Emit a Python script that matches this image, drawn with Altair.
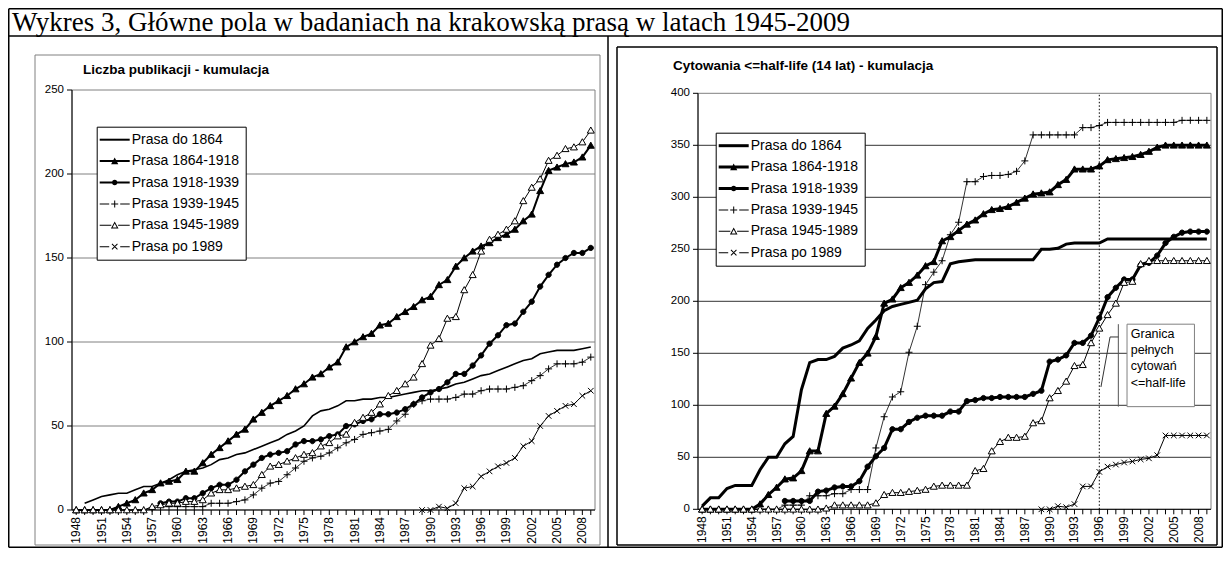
import altair as alt
import pandas as pd

years = list(range(1948, 2010))
label_years = list(range(1948, 2010, 3))
series = ["Prasa do 1864", "Prasa 1864-1918", "Prasa 1918-1939",
          "Prasa 1939-1945", "Prasa 1945-1989", "Prasa po 1989"]
N = None

# ---- Left chart: Liczba publikacji - kumulacja (1948..2009) ----
pub_do1864 = [N, 4, 6, 8, 9, 10, 10, 12, 14, 14,
              16, 18, 21, 23, 24, 25, 27, 30, 31, 33,
              34, 36, 38, 40, 42, 45, 47, 50, 56, 59,
              60, 62, 65, 65, 66, 66, 67, 67, 68, 69,
              70, 71, 71, 72, 73, 75, 76, 78, 80, 81,
              83, 85, 87, 89, 90, 93, 94, 95, 95, 95,
              96, 97]
pub_1864_1918 = [0, 0, 0, 0, 0, 2, 4, 6, 10, 12,
                 16, 17, 18, 23, 23, 28, 33, 37, 41, 45,
                 48, 54, 58, 62, 65, 68, 72, 75, 79, 81,
                 85, 88, 97, 100, 103, 105, 110, 111, 115, 118,
                 121, 125, 127, 134, 137, 145, 150, 154, 157, 159,
                 162, 164, 167, 172, 176, 190, 202, 204, 206, 207,
                 210, 217]
pub_1918_1939 = [N, N, N, N, N, N, N, N, N, N,
                 4, 5, 5, 7, 7, 10, 13, 15, 15, 18,
                 23, 27, 31, 33, 34, 35, 39, 41, 41, 42,
                 44, 45, 50, 51, 53, 54, 57, 57, 58, 60,
                 63, 67, 70, 72, 76, 81, 81, 86, 92, 99,
                 104, 110, 111, 118, 124, 133, 140, 146, 150, 153,
                 153, 156]
pub_1939_1945 = [0, 0, 0, 0, 0, 0, 0, 0, 0, 1,
                 2, 2, 2, 2, 2, 2, 4, 4, 4, 5,
                 6, 9, 13, 16, 17, 21, 25, 29, 31, 32,
                 34, 37, 40, 42, 45, 46, 47, 48, 53, 57,
                 63, 65, 66, 66, 66, 67, 69, 69, 71, 72,
                 72, 72, 73, 74, 77, 80, 84, 87, 87, 87,
                 88, 91]
pub_1945_1989 = [0, 0, 0, 0, 0, 0, 0, 0, 0, 2,
                 3, 4, 4, 5, 5, 6, 10, 12, 12, 13,
                 14, 15, 21, 26, 27, 29, 31, 33, 34, 38,
                 40, 44, 45, 52, 55, 58, 63, 68, 71, 75,
                 79, 87, 98, 102, 114, 115, 131, 140, 154, 161,
                 164, 167, 172, 184, 192, 197, 208, 211, 215, 216,
                 219, 226]
pub_po1989 = [N] * 41 + [0, 0, 2, 1, 4, 13, 14, 20, 23, 26,
                         28, 31, 38, 41, 50, 56, 59, 62, 63, 68, 71]

# ---- Right chart: Cytowania <=half-life (14 lat) - kumulacja ----
cit_do1864 = [3, 11, 11, 20, 23, 23, 23, 38, 50, 50,
              63, 70, 115, 141, 144, 144, 147, 155, 158, 162,
              174, 182, 191, 195, 197, 199, 201, 212, 218, 219,
              236, 238, 239, 240, 240, 240, 240, 240, 240, 240,
              240, 250, 250, 251, 255, 256, 256, 256, 256, 260,
              260, 260, 260, 260, 260, 260, 260, 260, 260, 260,
              260, 260]
cit_1864_1918 = [0, 0, 0, 0, 0, 0, 0, 5, 14, 21,
                 29, 30, 37, 56, 56, 92, 99, 111, 126, 141,
                 150, 166, 198, 202, 213, 218, 225, 234, 238, 258,
                 262, 268, 274, 278, 284, 288, 289, 291, 295, 299,
                 303, 304, 305, 312, 317, 327, 327, 327, 330, 336,
                 337, 338, 339, 341, 344, 348, 350, 350, 350, 350,
                 350, 350]
cit_1918_1939 = [N, N, N, N, N, N, N, N, N, N,
                 8, 8, 8, 8, 17, 18, 21, 22, 22, 27,
                 41, 51, 59, 77, 77, 84, 88, 90, 90, 90,
                 94, 94, 104, 105, 107, 107, 108, 108, 108, 108,
                 111, 114, 142, 144, 148, 160, 160, 167, 184, 204,
                 213, 221, 221, 235, 237, 244, 256, 262, 266, 267,
                 267, 267]
cit_1939_1945 = [0, 0, 0, 0, 0, 0, 0, 0, 0, 0,
                 4, 4, 4, 13, 13, 13, 15, 15, 19, 19,
                 19, 59, 89, 108, 113, 151, 176, 216, 228, 239,
                 264, 276, 315, 315, 320, 321, 321, 322, 325, 335,
                 360, 360, 360, 360, 360, 360, 367, 367, 369, 372,
                 372, 372, 372, 372, 372, 372, 372, 372, 374, 374,
                 374, 374]
cit_1945_1989 = [0, 0, 0, 0, 0, 0, 0, 0, 0, 0,
                 0, 0, 0, 0, 0, 1, 4, 4, 4, 4,
                 4, 6, 14, 16, 16, 17, 18, 19, 22, 23,
                 23, 23, 23, 37, 39, 56, 65, 69, 69, 70,
                 83, 85, 107, 114, 123, 138, 139, 160, 174, 187,
                 198, 218, 219, 236, 239, 239, 239, 239, 239, 239,
                 239, 239]
cit_po1989 = [N] * 41 + [0, 0, 3, 2, 5, 22, 22, 36, 41, 43,
                         45, 46, 48, 49, 52, 71, 71, 71, 71, 71, 71]

left_y_ticks = [0, 50, 100, 150, 200, 250]
right_y_ticks = [0, 50, 100, 150, 200, 250, 300, 350, 400]

main_title = "Wykres 3, Główne pola w badaniach na krakowską prasą w latach 1945-2009"
left_title = "Liczba publikacji - kumulacja"
right_title = "Cytowania <=half-life (14 lat) - kumulacja"
note_lines = ["Granica", "pełnych", "cytowań", "<=half-life"]
half_life_year = 1996

W, H = 1215, 540
FONT = "Liberation Sans"
X_DOM = [1947.5, 2009.5]

# data markers (unit = sqrt(size)/2 px)
PT_SHAPES = ["M0,0",
             "M-1,0.8L0,-0.95L1,0.8Z",
             "M-0.75,0A0.75,0.75 0 1,0 0.75,0A0.75,0.75 0 1,0 -0.75,0Z",
             "M-1,0H1M0,-1V1",
             "M-1,0.8L0,-0.95L1,0.8Z",
             "M-0.8,-0.8L0.8,0.8M-0.8,0.8L0.8,-0.8"]
PT_FILLS = ["transparent", "black", "black", "transparent", "white", "transparent"]


def leg_paths(t_do, t_thick, t_thin):
    """Legend symbols as filled outlines (unit = 5 px): line + marker."""
    def rect(x0, x1, t):
        return f"M{x0},{-t}H{x1}V{t}H{x0}Z"
    tri = "M-0.72,0.62L0,-0.72L0.72,0.62Z"
    circ = "M-0.55,0A0.55,0.55 0 1,1 0.55,0A0.55,0.55 0 1,1 -0.55,0Z"
    plus = rect(-3, -1.1, t_thin) + rect(1.1, 3, t_thin) + rect(-0.7, 0.7, 0.1) + \
        "M-0.1,-0.7H0.1V0.7H-0.1Z"
    otri = rect(-3, -0.68, t_thin) + rect(0.68, 3, t_thin) + \
        "M-0.76,0.66L0,-0.78L0.76,0.66Z" + "M-0.42,0.46L0.42,0.46L0,-0.36Z"
    cross = rect(-3, -1.1, t_thin) + rect(1.1, 3, t_thin) + \
        "M-0.48,-0.62L0.62,0.48L0.48,0.62L-0.62,-0.48Z" + \
        "M-0.48,0.62L-0.62,0.48L0.48,-0.62L0.62,-0.48Z"
    return [rect(-3, 3, t_do),
            rect(-3, 3, t_thick) + tri,
            rect(-3, 3, t_thick) + circ,
            plus, otri, cross]


def long_df(cols):
    rows = []
    for s, vals in zip(series, cols):
        for y, v in zip(years, vals):
            if v is not None:
                rows.append({"year": y, "series": s, "v": v})
    return pd.DataFrame(rows)


def panel(cols, x_rng, y_rng, y_ticks, line_w, leg_syms, leg_x, leg_y, grid_color, extra_fn=None):
    df = long_df(cols)
    y_max = y_ticks[-1]
    xs = alt.Scale(domain=X_DOM, range=x_rng, nice=False, zero=False)
    ys = alt.Scale(domain=[0, y_max], range=y_rng, nice=False, zero=False)
    px_x0 = x_rng[0]
    px_y0 = y_rng[0]
    one = pd.DataFrame({"a": [0]})
    xd0 = alt.XDatum(X_DOM[0], type="quantitative", scale=xs, axis=None)
    xd1 = alt.X2Datum(X_DOM[1])

    grid = alt.Chart(pd.DataFrame({"v": y_ticks[1:-1]})).mark_rule(
        color=grid_color, strokeWidth=1).encode(
        y=alt.Y("v:Q", scale=ys, axis=None), x=xd0, x2=xd1)
    frame = alt.Chart(one).mark_rect(
        fill="transparent", stroke="#808080", strokeWidth=1).encode(
        x=xd0, x2=xd1,
        y=alt.YDatum(0, type="quantitative", scale=ys, axis=None),
        y2=alt.Y2Datum(y_max))
    # axes drawn through the scales
    x_domain_line = alt.Chart(one).mark_rule(color="black", strokeWidth=1).encode(
        x=xd0, x2=xd1, y=alt.YDatum(0, type="quantitative", scale=ys, axis=None))
    y_domain_line = alt.Chart(one).mark_rule(color="black", strokeWidth=1).encode(
        x=xd0, y=alt.YDatum(0, type="quantitative", scale=ys, axis=None), y2=alt.Y2Datum(y_max))
    x_ticks = alt.Chart(pd.DataFrame({"year": years})).mark_rule(color="black", strokeWidth=1).encode(
        x=alt.X("year:Q", scale=xs, axis=None), y=alt.value(px_y0), y2=alt.value(px_y0 + 5))
    x_labels = alt.Chart(pd.DataFrame({"year": label_years, "t": [str(y) for y in label_years]})).mark_text(
        angle=270, align="right", baseline="middle", font=FONT, fontSize=12, color="black").encode(
        x=alt.X("year:Q", scale=xs, axis=None), y=alt.value(px_y0 + 7), text="t:N")
    y_tick_marks = alt.Chart(pd.DataFrame({"v": y_ticks})).mark_rule(color="black", strokeWidth=1).encode(
        y=alt.Y("v:Q", scale=ys, axis=None), x=alt.value(px_x0 - 5), x2=alt.value(px_x0))
    y_labels = alt.Chart(pd.DataFrame({"v": y_ticks, "t": [str(v) for v in y_ticks]})).mark_text(
        align="right", baseline="middle", font=FONT, fontSize=11.5, color="black").encode(
        y=alt.Y("v:Q", scale=ys, axis=None), x=alt.value(px_x0 - 8), text="t:N")

    lines = alt.Chart(df).mark_line(color="black").encode(
        x=alt.X("year:Q", scale=xs, axis=None),
        y=alt.Y("v:Q", scale=ys, axis=None),
        detail="series:N",
        strokeWidth=alt.StrokeWidth("series:N", scale=alt.Scale(type="ordinal", domain=series, range=line_w),
                                    legend=None))
    pts = alt.Chart(df).transform_filter(alt.datum.series != series[0]).mark_point(
        stroke="black", strokeWidth=1, opacity=1, size=49).encode(
        x=alt.X("year:Q", scale=xs, axis=None),
        y=alt.Y("v:Q", scale=ys, axis=None),
        shape=alt.Shape("series:N", scale=alt.Scale(domain=series, range=PT_SHAPES), legend=None),
        fill=alt.Fill("series:N", scale=alt.Scale(domain=series, range=PT_FILLS), legend=None))
    lg = alt.Legend(orient="none", legendX=leg_x, legendY=leg_y, title=None,
                    fillColor="white", strokeColor="black", padding=6, rowPadding=7.4,
                    symbolSize=100, symbolOffset=5, labelOffset=10,
                    symbolFillColor="black", symbolStrokeWidth=0, symbolStrokeColor="transparent",
                    labelFont=FONT, labelFontSize=14, labelColor="black", labelLimit=0)
    leg = alt.Chart(pd.DataFrame({"series": series})).transform_filter("false").mark_point(
        filled=True, color="black", opacity=1).encode(
        shape=alt.Shape("series:N", scale=alt.Scale(domain=series, range=leg_syms), legend=lg))
    layers = [grid, frame]
    if extra_fn is not None:
        layers += extra_fn(xs, ys)
    layers += [x_domain_line, y_domain_line, x_ticks, x_labels, y_tick_marks, y_labels, lines, pts, leg]
    return alt.layer(*layers).resolve_scale(shape="independent", fill="independent",
                                            strokeWidth="independent")


def right_extra(xs, ys):
    dotted = alt.Chart(pd.DataFrame({"x": [half_life_year]})).mark_rule(
        color="black", strokeWidth=1, strokeDash=[1.5, 2]).encode(
        x=alt.X("x:Q", scale=xs, axis=None),
        y=alt.YDatum(0, type="quantitative", scale=ys, axis=None), y2=alt.Y2Datum(400))
    box = alt.Chart(pd.DataFrame({"x": [1999.35], "x2": [2007.5], "y": [98.7], "y2": [178]})).mark_rect(
        fill="white", stroke="#808080", strokeWidth=1).encode(
        x=alt.X("x:Q", scale=xs, axis=None), x2="x2:Q",
        y=alt.Y("y:Q", scale=ys, axis=None), y2="y2:Q")
    bar = alt.Chart(pd.DataFrame({"x": [1998.3], "y": [98.7], "y2": [178]})).mark_rule(
        color="#555555", strokeWidth=1).encode(
        x=alt.X("x:Q", scale=xs, axis=None),
        y=alt.Y("y:Q", scale=ys, axis=None), y2="y2:Q")
    callout = alt.Chart(pd.DataFrame({"x": [1996.2, 1997.3, 1998.3], "y": [117.6, 165.7, 165.7],
                                      "o": [0, 1, 2]})).mark_line(color="#333333", strokeWidth=1).encode(
        x=alt.X("x:Q", scale=xs, axis=None), y=alt.Y("y:Q", scale=ys, axis=None), order="o:Q")
    txt = alt.Chart(pd.DataFrame({"x": [1999.8] * 4, "y": [168.6, 153.0, 137.8, 121.7],
                                  "t": note_lines})).mark_text(
        align="left", baseline="middle", font=FONT, fontSize=12.5, color="black").encode(
        x=alt.X("x:Q", scale=xs, axis=None), y=alt.Y("y:Q", scale=ys, axis=None), text="t:N")
    return [dotted, box, bar, callout, txt]


left = panel([pub_do1864, pub_1864_1918, pub_1918_1939, pub_1939_1945, pub_1945_1989, pub_po1989],
             x_rng=[64, 587], y_rng=[502, 82], y_ticks=left_y_ticks,
             line_w=[1.6, 2, 2, 0.8, 1, 1], leg_syms=leg_paths(0.2, 0.2, 0.1),
             leg_x=88.7, leg_y=118.7, grid_color="#808080")
right = panel([cit_do1864, cit_1864_1918, cit_1918_1939, cit_1939_1945, cit_1945_1989, cit_po1989],
              x_rng=[690, 1203], y_rng=[501.3, 85.3], y_ticks=right_y_ticks,
              line_w=[3, 3, 3, 0.8, 1, 1], leg_syms=leg_paths(0.3, 0.3, 0.1),
              leg_x=707.7, leg_y=124.7, grid_color="#333333", extra_fn=right_extra)

# decoration: table borders and chart frames (pixel positions)
seg = pd.DataFrame([
    dict(x=0.75, y=0.75, x2=1214.25, y2=0.75, c="black", w=1.5),
    dict(x=0.75, y=0.75, x2=0.75, y2=539.25, c="black", w=1.5),
    dict(x=1214.25, y=0.75, x2=1214.25, y2=539.25, c="black", w=1.5),
    dict(x=0.75, y=539.25, x2=1214.25, y2=539.25, c="black", w=1.5),
    dict(x=0, y=28, x2=1215, y2=28, c="black", w=1.5),
    dict(x=600, y=28, x2=600, y2=540, c="black", w=1.5),
    dict(x=27, y=47, x2=592, y2=47, c="#808080", w=1),
    dict(x=27, y=47, x2=27, y2=537, c="#808080", w=1),
    dict(x=592, y=47, x2=592, y2=537, c="#808080", w=1),
    dict(x=27, y=537, x2=592, y2=537, c="#808080", w=1),
    dict(x=609, y=39, x2=1209, y2=39, c="black", w=1.5),
    dict(x=609, y=39, x2=609, y2=537, c="black", w=1.5),
    dict(x=1209, y=39, x2=1209, y2=537, c="black", w=1.5),
    dict(x=609, y=537, x2=1209, y2=537, c="black", w=1.5),
])
deco = alt.Chart(seg).mark_rule().encode(
    x=alt.X("x:Q", scale=None), y=alt.Y("y:Q", scale=None),
    x2="x2:Q", y2="y2:Q",
    color=alt.Color("c:N", scale=None),
    strokeWidth=alt.StrokeWidth("w:Q", scale=None))

titles_df = pd.DataFrame([
    dict(x=75, y=66, t=left_title),
    dict(x=665, y=62, t=right_title),
])
titles = alt.Chart(titles_df).mark_text(
    align="left", baseline="alphabetic", font=FONT, fontSize=13.5, fontWeight="bold", color="black").encode(
    x=alt.X("x:Q", scale=None), y=alt.Y("y:Q", scale=None), text="t:N")
main = alt.Chart(pd.DataFrame({"x": [4], "y": [23], "t": [main_title]})).mark_text(
    align="left", baseline="alphabetic", font="Liberation Serif", fontSize=27, color="black").encode(
    x=alt.X("x:Q", scale=None), y=alt.Y("y:Q", scale=None), text="t:N")

chart = alt.layer(deco, titles, main, left, right).resolve_scale(
    x="independent", y="independent", shape="independent", fill="independent",
    strokeWidth="independent", color="independent"
).properties(
    width=W, height=H, autosize=alt.AutoSizeParams(type="none"), padding=0
).configure_view(stroke=None)

chart.save("out.html", embed_options={"renderer": "svg", "actions": False})
